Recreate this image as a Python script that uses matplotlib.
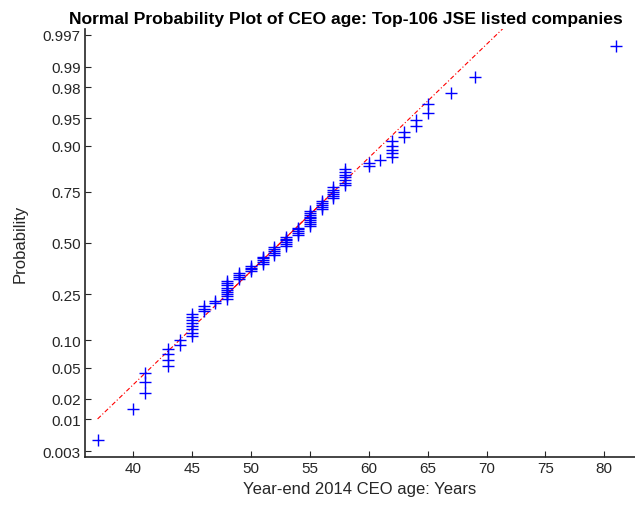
import numpy as np
import matplotlib
matplotlib.use("Agg")
import matplotlib.pyplot as plt
from statistics import NormalDist

plt.rcParams['font.family'] = ['Liberation Sans', 'DejaVu Sans']

# CEO ages and how many CEOs have each age
ages = [37, 40, 41, 43, 44, 45, 46, 47, 48, 49, 50, 51, 52, 53,
        54, 55, 56, 57, 58, 60, 61, 62, 63, 64, 65, 67, 69, 81]
counts = [1, 1, 3, 4, 2, 8, 3, 2, 9, 4, 4, 5, 5, 6,
          5, 9, 5, 6, 7, 2, 1, 5, 2, 2, 2, 1, 1, 1]

prob_ticks = [0.003, 0.01, 0.02, 0.05, 0.10, 0.25, 0.50,
              0.75, 0.90, 0.95, 0.98, 0.99, 0.997]
prob_labels = ['0.003', '0.01', '0.02', '0.05', '0.10', '0.25', '0.50',
               '0.75', '0.90', '0.95', '0.98', '0.99', '0.997']
x_ticks = [40, 45, 50, 55, 60, 65, 70, 75, 80]

nd = NormalDist()
inv = np.vectorize(nd.inv_cdf)

data = np.sort(np.repeat(ages, counts))
n = len(data)
pp = (np.arange(1, n + 1) - 0.5) / n
zz = inv(pp)

# reference line through the quartiles, like normplot
q1, q3 = np.percentile(data, [25, 75], method='hazen')
z1, z3 = inv([0.25, 0.75])
slope = (z3 - z1) / (q3 - q1)
def line(x):
    return z1 + slope * (np.asarray(x) - q1)

fig = plt.figure(figsize=(6.35, 5.1), dpi=100)
ax = fig.add_axes([85 / 635, 1 - 458 / 510, 1 - 85 / 635, (458 - 30) / 510])

ax.plot(data, zz, '+', color='blue', markersize=8.5, markeredgewidth=1.0, zorder=3)
xe = np.array([data.min(), data.max()])
ax.plot(xe, line(xe), color='red', lw=0.8, linestyle=(0, (4, 2, 1, 2)), zorder=2)
xq = np.array([q1, q3])
ax.plot(xq, line(xq), color='red', lw=0.8, zorder=2)

ylim = inv([0.25 / n, 1 - 0.25 / n])
ax.set_ylim(ylim)
ax.set_xlim(35.93, 82.6)
ax.set_yticks(inv(prob_ticks))
ax.set_yticklabels(prob_labels)
ax.set_xticks(x_ticks)

for s in ['top', 'right']:
    ax.spines[s].set_visible(False)
for s in ['left', 'bottom']:
    ax.spines[s].set_color('#262626')
    ax.spines[s].set_linewidth(1.2)
ax.tick_params(direction='in', length=4, width=0.8, colors='#262626',
               labelsize=11, pad=3)

ax.set_xlabel('Year-end 2014 CEO age: Years', fontsize=12, color='#262626')
ax.set_ylabel('Probability', fontsize=12, color='#262626', labelpad=11)
ax.set_title('Normal Probability Plot of CEO age: Top-106 JSE listed companies',
             fontsize=12.6, fontweight='bold', x=0.475, pad=4)

fig.savefig('out.png', dpi=100)
